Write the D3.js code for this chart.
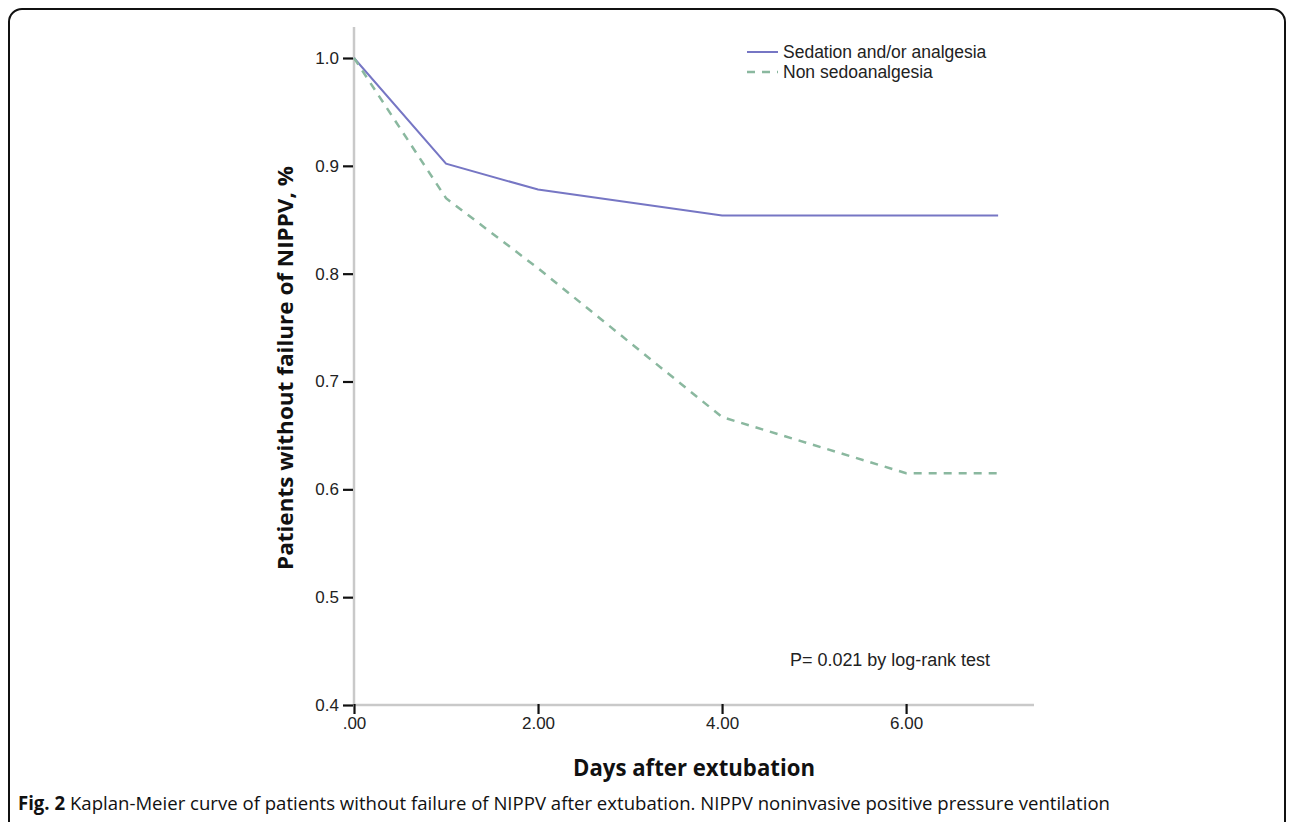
<!DOCTYPE html>
<html>
<head>
<meta charset="utf-8">
<script src="https://cdn.jsdelivr.net/npm/d3@7"></script>
<style>
  body { margin: 0; background: #fff; }
  svg { display: block; }
  .tick text { font-family: "Liberation Sans", Arial, sans-serif; font-size: 17px; fill: #222; }
  .tick line { stroke: #111; stroke-width: 2.2; }
</style>
</head>
<body>
<svg id="km" width="1292" height="822"></svg>
<script>
// data
var sedDays = [0, 1, 2, 4, 7],
    sedValues = [1.0, 0.902, 0.878, 0.854, 0.854];
var nonDays = [0, 1, 2, 4, 6, 7],
    nonValues = [1.0, 0.870, 0.805, 0.667, 0.615, 0.615];
var yTicks = [0.4, 0.5, 0.6, 0.7, 0.8, 0.9, 1.0],
    yTickLabels = ["0.4", "0.5", "0.6", "0.7", "0.8", "0.9", "1.0"];
var xTicks = [0, 2, 4, 6],
    xTickLabels = [".00", "2.00", "4.00", "6.00"];
var seriesNames = ["Sedation and/or analgesia", "Non sedoanalgesia"];

var svg = d3.select("svg#km");

// frame
svg.append("rect")
    .attr("x", 9).attr("y", 9)
    .attr("width", 1276).attr("height", 840)
    .attr("rx", 13)
    .attr("fill", "none")
    .attr("stroke", "#111")
    .attr("stroke-width", 2);

var x = d3.scaleLinear().domain([0, 7.39]).range([354, 1034]),
    y = d3.scaleLinear().domain([0.4, 1.0]).range([705, 58]);

// axis lines (grey, like SPSS)
svg.append("line")
    .attr("x1", x(0)).attr("x2", x(0))
    .attr("y1", 27).attr("y2", y(0.4))
    .attr("stroke", "#c9c9c9").attr("stroke-width", 2.5);
svg.append("line")
    .attr("x1", x(0)).attr("x2", x.range()[1])
    .attr("y1", y(0.4)).attr("y2", y(0.4))
    .attr("stroke", "#c9c9c9").attr("stroke-width", 2.5);

var yAxis = svg.append("g")
    .attr("transform", "translate(" + (x(0) - 1) + ",0)")
    .call(d3.axisLeft(y).tickValues(yTicks)
        .tickFormat(function (d, i) { return yTickLabels[i]; })
        .tickSize(10).tickPadding(4));
yAxis.select("path.domain").remove();

var xAxis = svg.append("g")
    .attr("transform", "translate(0," + (y(0.4) - 1) + ")")
    .call(d3.axisBottom(x).tickValues(xTicks)
        .tickFormat(function (d, i) { return xTickLabels[i]; })
        .tickSize(10).tickPadding(3));
xAxis.select("path.domain").remove();

// curves
var line = d3.line()
    .x(function (d) { return x(d[0]); })
    .y(function (d) { return y(d[1]); });

svg.append("path")
    .datum(d3.zip(sedDays, sedValues))
    .attr("d", line)
    .attr("fill", "none")
    .attr("stroke", "#7676c4")
    .attr("stroke-width", 2);

svg.append("path")
    .datum(d3.zip(nonDays, nonValues))
    .attr("d", line)
    .attr("fill", "none")
    .attr("stroke", "#8ab89f")
    .attr("stroke-width", 2.5)
    .attr("stroke-dasharray", "8,7");

// legend
var legend = svg.append("g").attr("transform", "translate(747,52)");
legend.append("line")
    .attr("x1", 0).attr("x2", 31).attr("y1", 0).attr("y2", 0)
    .attr("stroke", "#7676c4").attr("stroke-width", 2);
legend.append("line")
    .attr("x1", 0).attr("x2", 31).attr("y1", 20).attr("y2", 20)
    .attr("stroke", "#8ab89f").attr("stroke-width", 2.5)
    .attr("stroke-dasharray", "8,7");
legend.selectAll("text.lbl")
    .data(seriesNames)
    .enter().append("text")
    .attr("class", "lbl")
    .attr("x", 36)
    .attr("y", function (d, i) { return i * 20 + 6; })
    .style("font-family", "'Liberation Sans', Arial, sans-serif")
    .style("font-size", "17.5px")
    .style("fill", "#222")
    .text(function (d) { return d; });

svg.append("text")
    .attr("x", 790).attr("y", 666)
    .style("font-family", "'Liberation Sans', Arial, sans-serif")
    .style("font-size", "18px")
    .style("fill", "#222")
    .attr("textLength", 200)
    .attr("lengthAdjust", "spacingAndGlyphs")
    .text("P= 0.021 by log-rank test");

// axis titles
svg.append("text")
    .attr("transform", "translate(293,368) rotate(-90)")
    .attr("text-anchor", "middle")
    .style("font-family", "'Open Sans', sans-serif")
    .style("font-weight", "bold")
    .style("font-size", "22px")
    .style("fill", "#111")
    .attr("textLength", 404)
    .attr("lengthAdjust", "spacingAndGlyphs")
    .text("Patients without failure of NIPPV, %");

svg.append("text")
    .attr("x", 694).attr("y", 776)
    .attr("text-anchor", "middle")
    .style("font-family", "'Open Sans', sans-serif")
    .style("font-weight", "bold")
    .style("font-size", "23px")
    .style("fill", "#111")
    .attr("textLength", 242)
    .attr("lengthAdjust", "spacingAndGlyphs")
    .text("Days after extubation");

// caption
var cap = svg.append("text")
    .attr("x", 18).attr("y", 810)
    .style("font-family", "'Open Sans', sans-serif")
    .style("font-size", "19px")
    .style("fill", "#111")
    .attr("textLength", 1092)
    .attr("lengthAdjust", "spacingAndGlyphs");
cap.append("tspan").style("font-weight", "bold").text("Fig. 2");
cap.append("tspan").text(" Kaplan-Meier curve of patients without failure of NIPPV after extubation. NIPPV noninvasive positive pressure ventilation");
</script>
</body>
</html>
